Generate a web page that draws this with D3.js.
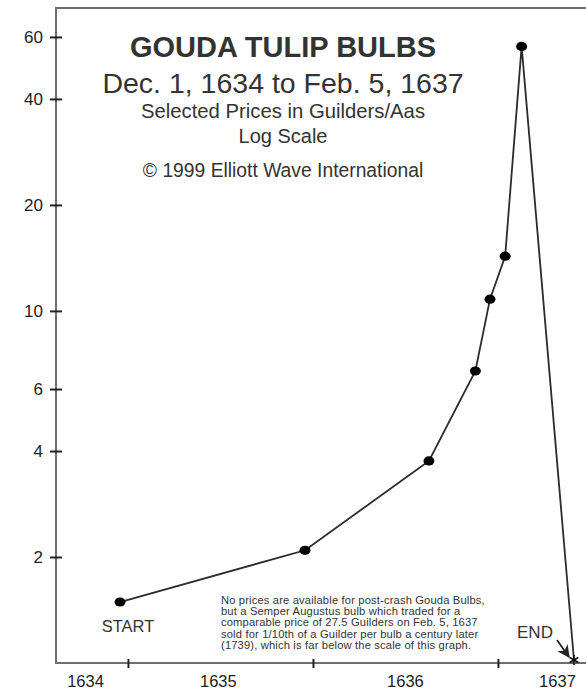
<!DOCTYPE html>
<html><head><meta charset="utf-8">
<script src="https://cdn.jsdelivr.net/npm/d3@7"></script>
<style>body{margin:0;background:#fff}svg{display:block}text{font-family:"Liberation Sans",Arial,Helvetica,sans-serif}</style>
</head><body><svg id="c" width="586" height="691"></svg>
<script>
// ---- data ----
const dates  = [1634.957, 1635.957, 1636.627, 1636.878, 1636.957, 1637.039, 1637.128, 1637.411];
const prices = [1.49, 2.09, 3.75, 6.75, 10.8, 14.3, 56.4, 1.02];
const yTicks = [2, 4, 6, 10, 20, 40, 60];
const yearTicks = [1635, 1636, 1637];
const yearLabels = ["1634", "1635", "1636", "1637"];
const yearLabelAt = [1634.768, 1635.486, 1636.497, 1637.319];
const titleLines = ["GOUDA TULIP BULBS", "Dec. 1, 1634 to Feb. 5, 1637", "Selected Prices in Guilders/Aas", "Log Scale", "\u00A9 1999 Elliott Wave International"];
const noteLines = [
  "No prices are available for post-crash Gouda Bulbs,",
  "but a Semper Augustus bulb which traded for a",
  "comparable price of 27.5 Guilders on Feb. 5, 1637",
  "sold for 1/10th of a Guilder per bulb a century later",
  "(1739), which is far below the scale of this graph."
];

// ---- layout ----
const svg = d3.select("#c");
const L = 56, R = 586, T = 8, B = 663;
const x = d3.scaleLinear().domain([1634.611, 1637.476]).range([L, R]);
const y = d3.scaleLog().domain([1, 72.5]).range([B, T]);
const ink = "#2b2b2b";
const ff = '"Liberation Sans",Arial,sans-serif';

// frame
svg.append("path").attr("d", `M${R},${T}H${L}V${B}H${R}`)
  .attr("fill", "none").attr("stroke", "#6e6e6e").attr("stroke-width", 2);

// y axis
const ya = svg.append("g").attr("transform", `translate(${L},0)`)
  .call(d3.axisLeft(y).tickValues(yTicks).tickFormat(d3.format("d")).tickSize(6).tickPadding(7));
ya.select(".domain").remove();
ya.selectAll("line").attr("x1", -6).attr("x2", 6).attr("stroke", "#222").attr("stroke-width", 2);
ya.selectAll("text").style("font-size", "17px").attr("fill", "#222").style("font-family", ff);

// x axis ticks
const xa = svg.append("g").attr("transform", `translate(0,${B})`)
  .call(d3.axisBottom(x).tickValues(yearTicks).tickFormat("").tickSize(5));
xa.select(".domain").remove();
xa.selectAll("line").attr("y1", -4).attr("y2", 5).attr("stroke", "#222").attr("stroke-width", 2);
// x axis labels
const xl = svg.append("g").attr("transform", `translate(0,${B})`)
  .call(d3.axisBottom(x).tickValues(yearLabelAt).tickFormat((d, i) => yearLabels[i]).tickSize(0).tickPadding(12));
xl.select(".domain").remove();
xl.selectAll("text").style("font-size", "16.5px").attr("fill", "#222").style("font-family", ff);

// titles
const tcx = 283;
const tSpecs = [
  {size: 29, weight: "bold", base: 57},
  {size: 28.5, weight: "normal", base: 93},
  {size: 20.3, weight: "normal", base: 118},
  {size: 20, weight: "normal", base: 143},
  {size: 19.3, weight: "normal", base: 177}
];
svg.append("g").selectAll("text").data(titleLines).join("text")
  .attr("x", tcx).attr("y", (d, i) => tSpecs[i].base)
  .attr("text-anchor", "middle")
  .attr("font-size", (d, i) => tSpecs[i].size)
  .attr("font-weight", (d, i) => tSpecs[i].weight)
  .attr("fill", "#333")
  .text(d => d);

// line
const pts = dates.map((d, i) => [d, prices[i]]);
svg.append("path").datum(pts)
  .attr("d", d3.line().x(d => x(d[0])).y(d => y(d[1])))
  .attr("fill", "none").attr("stroke", ink).attr("stroke-width", 1.8);

// dots
svg.append("g").selectAll("ellipse").data(pts.slice(0, pts.length - 1)).join("ellipse")
  .attr("cx", d => x(d[0])).attr("cy", d => y(d[1]))
  .attr("rx", 5.5).attr("ry", 4.6).attr("fill", "#000");

// end star
const endP = pts[pts.length - 1];
svg.append("path")
  .attr("transform", `translate(${x(endP[0])},${y(endP[1])})`)
  .attr("d", d3.symbol(d3.symbolAsterisk, 70)())
  .attr("fill", "none").attr("stroke", "#111").attr("stroke-width", 1.6);

// START label
const sP = pts[0];
svg.append("text").attr("x", x(sP[0]) + 8).attr("y", y(sP[1]) + 30)
  .attr("text-anchor", "middle").attr("font-size", 16.5).attr("fill", "#333").text("START");

// END label and arrow
const ex = x(endP[0]), ey = y(endP[1]);
svg.append("text").attr("x", ex - 39).attr("y", ey - 22)
  .attr("text-anchor", "middle").attr("font-size", 17).attr("fill", "#333").text("END");
svg.append("defs").append("marker").attr("id", "ah")
  .attr("viewBox", "0 0 10 10").attr("refX", 9).attr("refY", 5)
  .attr("markerWidth", 7).attr("markerHeight", 7).attr("orient", "auto")
  .append("path").attr("d", "M0,0L10,5L0,10L3,5Z").attr("fill", "#222");
svg.append("line").attr("x1", ex - 17).attr("y1", ey - 20).attr("x2", ex - 5).attr("y2", ey - 3)
  .attr("stroke", "#222").attr("stroke-width", 1.8).attr("marker-end", "url(#ah)");

// note
svg.append("g").selectAll("text").data(noteLines).join("text")
  .attr("x", 221).attr("y", (d, i) => 604 + i * 11.2)
  .attr("font-size", 11.2).attr("letter-spacing", 0.15).attr("fill", "#333")
  .text(d => d);
</script></body></html>
